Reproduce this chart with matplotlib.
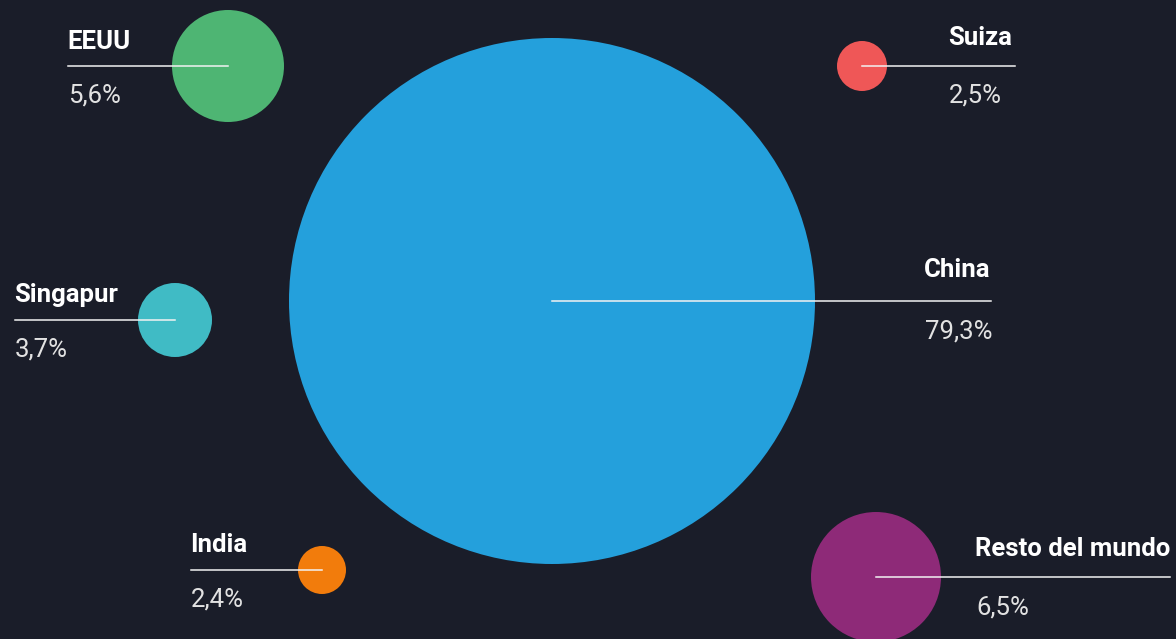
import matplotlib.pyplot as plt
import numpy as np
from matplotlib.patches import Circle

# Data
countries = ["China", "EEUU", "Resto del mundo", "Singapur", "Suiza", "India"]
shares = [79.3, 5.6, 6.5, 3.7, 2.5, 2.4]
colors = ["#24a0dc", "#4eb573", "#8e2a78", "#40bbc5", "#ef5757", "#f27c0c"]

# Layout (pixel coordinates, y grows downward)
centers = {
    "China": (552, 301), "EEUU": (228, 66), "Resto del mundo": (876, 577),
    "Singapur": (175, 320), "Suiza": (862, 66), "India": (322, 570),
}
label_x = {"China": 924, "EEUU": 67, "Resto del mundo": 975,
           "Singapur": 14, "Suiza": 948, "India": 190}
line_end = {"China": 991, "EEUU": 68, "Resto del mundo": 1170,
            "Singapur": 15, "Suiza": 1015, "India": 191}
name_dy = {"China": -31, "EEUU": -24, "Resto del mundo": -28,
           "Singapur": -25, "Suiza": -28, "India": -25}
value_dy = 30

BG = "#1a1d29"
W, H = 1176, 639

def radius(v):
    # linear radius scale, capped for the dominant bubble
    return min(v * 10.0, 263.0)

fig = plt.figure(figsize=(W / 100, H / 100), dpi=100, facecolor=BG)
ax = fig.add_axes([0, 0, 1, 1])
ax.set_facecolor(BG)
ax.set_xlim(0, W)
ax.set_ylim(H, 0)
ax.set_aspect("equal")
ax.axis("off")

for name, val, col in zip(countries, shares, colors):
    cx, cy = centers[name]
    ax.add_patch(Circle((cx, cy), radius(val), facecolor=col, edgecolor="none", zorder=1))
    ax.plot([cx, line_end[name]], [cy, cy], color="#f2f2f2", lw=1.1, zorder=2)
    ax.text(label_x[name], cy + name_dy[name], name, color="white", fontsize=18.5,
            fontweight="bold", family="Roboto", ha="left", va="center", zorder=3)
    ax.text(label_x[name] + 1, cy + value_dy, f"{val:.1f}%".replace(".", ","),
            color="#e2e2e2", fontsize=18.5, family="Roboto",
            ha="left", va="center", zorder=3)

fig.savefig("out.png", dpi=100, facecolor=BG)
